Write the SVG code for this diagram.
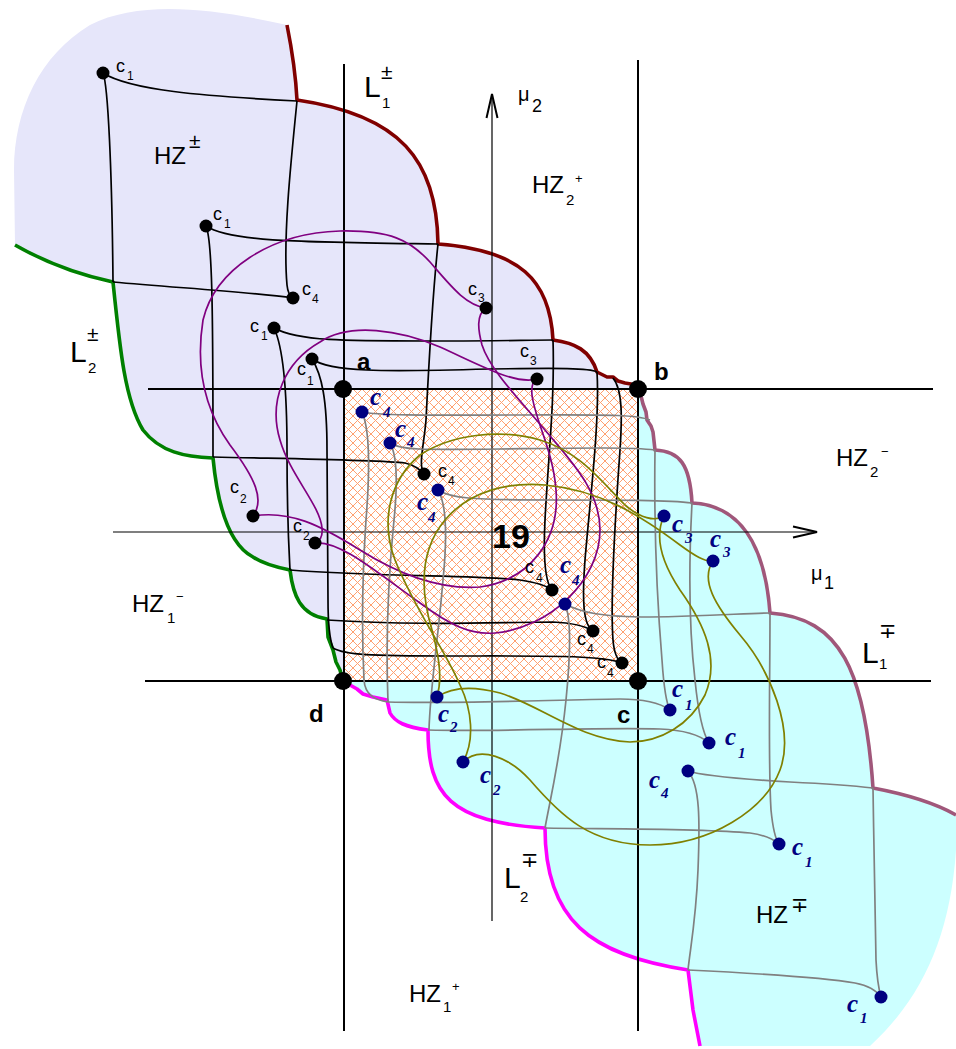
<svg xmlns="http://www.w3.org/2000/svg" width="956" height="1049" viewBox="0 0 956 1049">
<defs>
<pattern id="hatch" patternUnits="userSpaceOnUse" x="344" y="389" width="9" height="9">
<path d="M0,0 L9,9 M0,9 L9,0" stroke="#ffa070" stroke-width="1" fill="none"/>
</pattern>
<marker id="arr" markerUnits="userSpaceOnUse" viewBox="-26 -8 28 16" refX="0" refY="0" markerWidth="28" markerHeight="16" orient="auto" overflow="visible">
<path d="M-24,-5.5 L0,0 L-24,5.5" fill="none" stroke="#000" stroke-width="2"/>
</marker>
<style>
.lav{fill:#e6e6fa;stroke:none}
.cyn{fill:#ccffff;stroke:none}
.bnd{fill:none;stroke-width:3.6;stroke-linejoin:round}
.main{stroke:#000;stroke-width:2;fill:none}
.axis{stroke:#000;stroke-width:1.2;fill:none}
.kg{stroke:#000;stroke-width:1.7;fill:none}
.gg{stroke:#808080;stroke-width:1.7;fill:none}
.pp{stroke:#800080;stroke-width:1.7;fill:none}
.ol{stroke:#808000;stroke-width:1.7;fill:none}
.kd{fill:#000}
.bd{fill:#000080}
text{font-family:"Liberation Sans",Arial,"DejaVu Sans",sans-serif;fill:#000}
.c{font-size:18px}
.cs{font-size:12px}
.bc{font-family:"Liberation Serif","Times New Roman",serif;font-style:italic;font-weight:bold;fill:#000080;font-size:25px}
.bcs{font-family:"Liberation Serif","Times New Roman",serif;font-style:italic;font-weight:bold;fill:#000080;font-size:15px}
.pt{font-weight:bold;font-size:24px}
.hz{font-size:24px}
.L{font-size:30px}
.sb{font-size:15px}
.sp{font-size:21px;font-family:"Liberation Sans","DejaVu Sans",sans-serif}
.spm{font-size:13px}
.mu{font-size:20px}
.mus{font-size:18px}
</style>
</defs>
<rect width="956" height="1049" fill="#fff"/>

<g id="regions">
<path class="lav" d="M287,25 C292,50 296,80 297,100 C400,115 437,160 438,244 C520,250 550,280 553,340 C575,343 590,350 597,372 L607,377 L613,377 L618,381 L625,383 L631,384 L638,389 L344,681 L340,670 L336,662 L333,650 L328,637 L327,619 C300,615 293,595 290,570 C280,568 265,565 253,557 C230,545 218,510 213,458 C185,457 160,452 143,430 C125,400 120,350 113,282 C80,275 50,265 15,245 L14,170 C14,110 40,55 90,25 C140,0 210,8 287,25 Z"/>
<path class="cyn" d="M638,389 L641,396 L643,404 L646,412 L647,420 L651,426 L653,432 L655,450 C680,451 690,465 692,503 C740,505 765,545 770,613 C840,618 865,670 873,788 C910,795 935,803 956,815 L956,850 C950,940 920,1000 870,1046 L700,1046 L693,1010 L688,970 C590,955 545,920 545,828 C450,822 428,795 428,730 C405,727 395,722 390,713 L387,700 L373,697 L363,694 L357,689 L350,685 L343,681 L638,681 Z"/>
</g>

<g id="square">
<rect x="344" y="389" width="294" height="292" fill="#fff"/>
<rect x="344" y="389" width="294" height="292" fill="url(#hatch)"/>
</g>

<g id="boundaries">
<path class="bnd" stroke="#800000" d="M287,25 C292,50 296,80 297,100 C400,115 437,160 438,244 C520,250 550,280 553,340 C575,343 590,350 597,372 L607,377 L613,377 L618,381 L625,383 L631,384 L638,389"/>
<path class="bnd" stroke="#008000" d="M15,245 C50,265 80,275 113,282 C120,350 125,400 143,430 C160,452 185,457 213,458 C218,510 230,545 253,557 C265,565 280,568 290,570 C293,595 300,615 327,619 L328,637 L333,650 L336,662 L340,670 L343,681"/>
<path class="bnd" stroke="#a0577a" d="M638,389 L641,396 L643,404 L646,412 L647,420 L651,426 L653,432 L655,450 C680,451 690,465 692,503 C740,505 765,545 770,613 C840,618 865,670 873,788 C910,795 935,803 956,815"/>
<path class="bnd" stroke="#ff00ff" d="M343,681 L350,685 L357,689 L363,694 L373,697 L387,700 L390,713 C395,722 405,727 428,730 C428,795 450,822 545,828 C545,920 590,955 688,970 L693,1010 L700,1046"/>
</g>

<g id="lines">
<line class="main" x1="344" y1="64" x2="344" y2="1031"/>
<line class="main" x1="638" y1="60" x2="638" y2="1031"/>
<line class="main" x1="148" y1="389" x2="933" y2="389"/>
<line class="main" x1="145" y1="681" x2="931" y2="681"/>
<line class="axis" x1="492" y1="921" x2="492" y2="94" marker-end="url(#arr)"/>
<line class="axis" x1="113" y1="532" x2="817" y2="532" marker-end="url(#arr)"/>
</g>

<g id="connectors">
<g id="black-grid">
<path class="kg" d="M103,73 C130,90 200,96 297,101"/>
<path class="kg" d="M103,73 C108,85 112,170 113,282"/>
<path class="kg" d="M113,282 C180,288 250,292 293,298"/>
<path class="kg" d="M297,101 C290,170 283,240 287,285 Q288,295 293,298"/>
<path class="kg" d="M206,226 C230,242 300,242 438,244"/>
<path class="kg" d="M206,226 C212,240 213,300 213,457"/>
<path class="kg" d="M213,457 C300,459 380,460 405,463 C415,465 420,470 424,474"/>
<path class="kg" d="M438,244 C432,300 428,380 426,420 C424,445 418,465 424,474"/>
<path class="kg" d="M274,328 C300,342 350,341 450,341 C500,341 530,340 553,340"/>
<path class="kg" d="M274,328 C282,345 287,380 287,450 C287,520 289,550 290,570"/>
<path class="kg" d="M290,570 C380,577 480,575 520,580 C540,583 547,586 552,590"/>
<path class="kg" d="M553,340 C555,400 548,460 545,520 C543,560 545,582 552,590"/>
<path class="kg" d="M312,359 C330,372 380,372 490,369 C560,368 590,368 597,372"/>
<path class="kg" d="M312,359 C322,375 327,400 327,450 L328,600 C328,625 330,640 333,648"/>
<path class="kg" d="M327,620 C420,626 500,622 553,622 C575,623 585,626 593,631"/>
<path class="kg" d="M597,372 C600,420 590,500 585,560 C582,600 583,625 593,631"/>
<path class="kg" d="M333,648 C345,655 370,656 450,656 C550,656 600,655 622,663"/>
<path class="kg" d="M613,378 C623,390 622,420 620,450 C615,520 610,600 613,640 C614,652 617,660 622,663"/>
</g>
<g id="gray-grid">
<path class="gg" d="M362,412 C380,416 450,415 520,415 C600,415 635,414 650,420"/>
<path class="gg" d="M362,412 C370,430 370,470 366,520 C362,580 362,640 364,680 C365,695 375,700 388,702"/>
<path class="gg" d="M390,443 C400,450 420,450 500,449 C580,448 630,447 655,450"/>
<path class="gg" d="M390,443 C397,455 398,480 394,520 C388,580 386,650 388,702"/>
<path class="gg" d="M388,702 C450,704 550,700 620,699 C645,699 660,703 670,710"/>
<path class="gg" d="M655,450 C654,520 657,600 662,660 C664,690 666,703 670,710"/>
<path class="gg" d="M438,490 C450,498 470,500 550,500 C620,500 670,500 692,503"/>
<path class="gg" d="M438,490 C447,505 447,540 443,580 C438,640 430,690 429,730"/>
<path class="gg" d="M428,730 C500,732 600,727 660,729 C685,730 700,735 709,743"/>
<path class="gg" d="M692,503 C689,560 688,620 695,680 C698,710 702,732 709,743"/>
<path class="gg" d="M565,604 C580,612 600,617 650,617 C710,616 750,613 770,613"/>
<path class="gg" d="M565,604 C572,620 570,660 566,700 C560,760 550,800 545,828"/>
<path class="gg" d="M545,828 C600,829 700,828 750,833 C765,835 773,839 779,844"/>
<path class="gg" d="M770,613 C770,680 768,760 771,810 C773,830 776,840 779,844"/>
<path class="gg" d="M688,771 C700,775 740,779 790,782 C830,784 855,786 873,788"/>
<path class="gg" d="M688,771 C700,785 700,820 698,870 C696,920 690,950 688,970"/>
<path class="gg" d="M688,970 C750,973 820,977 855,983 C870,986 877,991 881,997"/>
<path class="gg" d="M873,788 C874,850 875,920 876,960 C877,980 879,990 881,997"/>
</g>
<g id="purple-cycle">
<path class="pp" d="M486,308 C465,305 450,285 430,262 C410,240 390,230 340,231 C270,233 215,270 203,320 C195,370 205,410 230,445 C255,478 265,500 253,516"/>
<path class="pp" d="M253,516 C290,510 320,525 360,550 C400,575 440,590 480,587 C530,580 560,540 556,490 C553,450 535,420 532,395 C531,385 533,381 537,379"/>
<path class="pp" d="M537,379 C515,385 480,365 440,347 C400,330 350,322 320,342 C285,362 268,400 280,440 C290,475 320,505 322,528 C323,537 320,541 315,543"/>
<path class="pp" d="M315,543 C340,540 380,575 420,603 C450,625 470,635 495,633 C550,628 600,580 600,530 C600,490 570,460 545,430 C520,400 490,370 482,345 C478,330 476,315 486,308"/>
</g>
<g id="olive-cycle">
<path class="ol" d="M437,697 C442,680 440,660 432,630 C420,590 420,550 445,520 C470,490 510,482 545,485 C600,490 640,515 680,545 C695,556 705,562 713,561"/>
<path class="ol" d="M713,561 C700,580 715,605 740,635 C770,670 795,730 780,770 C765,810 710,845 650,845 C590,845 560,815 530,780 C510,758 480,745 463,762"/>
<path class="ol" d="M463,762 C475,740 472,710 460,685 C445,650 415,610 395,560 C380,520 390,480 420,455 C450,435 500,428 540,440 C580,452 600,480 625,505 C640,518 655,522 664,516"/>
<path class="ol" d="M664,516 C655,535 660,560 680,590 C705,625 720,660 705,695 C690,725 660,742 630,742 C580,740 540,705 500,693 C470,685 450,688 437,697"/>
</g>
</g>

<g id="corners">
<g id="pt-a"><circle class="kd" cx="343" cy="389" r="9"/><text class="pt" x="357" y="370">a</text></g>
<g id="pt-b"><circle class="kd" cx="638" cy="389" r="9"/><text class="pt" x="654" y="380">b</text></g>
<g id="pt-c"><circle class="kd" cx="638" cy="681" r="9"/><text class="pt" x="617" y="723">c</text></g>
<g id="pt-d"><circle class="kd" cx="343" cy="681" r="9"/><text class="pt" x="309" y="722">d</text></g>
</g>

<g id="black-nodes">
<g id="k1"><circle class="kd" cx="103" cy="73" r="6.5"/><text class="c" x="116" y="72">c</text><text class="cs" x="127" y="80">1</text></g>
<g id="k2"><circle class="kd" cx="206" cy="226" r="6.5"/><text class="c" x="213" y="220">c</text><text class="cs" x="224" y="228">1</text></g>
<g id="k3"><circle class="kd" cx="293" cy="298" r="6.5"/><text class="c" x="302" y="295">c</text><text class="cs" x="312" y="303">4</text></g>
<g id="k4"><circle class="kd" cx="274" cy="328" r="6.5"/><text class="c" x="250" y="332">c</text><text class="cs" x="261" y="340">1</text></g>
<g id="k5"><circle class="kd" cx="312" cy="359" r="6.5"/><text class="c" x="297" y="375">c</text><text class="cs" x="307" y="385">1</text></g>
<g id="k6"><circle class="kd" cx="486" cy="308" r="6.5"/><text class="c" x="468" y="295">c</text><text class="cs" x="478" y="302">3</text></g>
<g id="k7"><circle class="kd" cx="537" cy="379" r="6.5"/><text class="c" x="520" y="357">c</text><text class="cs" x="530" y="365">3</text></g>
<g id="k8"><circle class="kd" cx="424" cy="474" r="6.5"/><text class="c" x="438" y="477">c</text><text class="cs" x="448" y="485">4</text></g>
<g id="k9"><circle class="kd" cx="253" cy="516" r="6.5"/><text class="c" x="230" y="493">c</text><text class="cs" x="240" y="503">2</text></g>
<g id="k10"><circle class="kd" cx="315" cy="543" r="6.5"/><text class="c" x="293" y="532">c</text><text class="cs" x="303" y="540">2</text></g>
<g id="k11"><circle class="kd" cx="552" cy="590" r="6.5"/><text class="c" x="525" y="573">c</text><text class="cs" x="536" y="582">4</text></g>
<g id="k12"><circle class="kd" cx="593" cy="631" r="6.5"/><text class="c" x="577" y="645">c</text><text class="cs" x="587" y="653">4</text></g>
<g id="k13"><circle class="kd" cx="622" cy="663" r="6.5"/><text class="c" x="597" y="668">c</text><text class="cs" x="607" y="677">4</text></g>
</g>

<g id="blue-nodes">
<g id="b1"><circle class="bd" cx="362" cy="412" r="6.5"/><text class="bc" x="370" y="405">c</text><text class="bcs" x="383" y="417">4</text></g>
<g id="b2"><circle class="bd" cx="390" cy="443" r="6.5"/><text class="bc" x="395" y="437">c</text><text class="bcs" x="407" y="447">4</text></g>
<g id="b3"><circle class="bd" cx="438" cy="490" r="6.5"/><text class="bc" x="417" y="510">c</text><text class="bcs" x="428" y="522">4</text></g>
<g id="b4"><circle class="bd" cx="565" cy="604" r="6.5"/><text class="bc" x="560" y="573">c</text><text class="bcs" x="572" y="585">4</text></g>
<g id="b5"><circle class="bd" cx="664" cy="516" r="6.5"/><text class="bc" x="672" y="532">c</text><text class="bcs" x="685" y="543">3</text></g>
<g id="b6"><circle class="bd" cx="713" cy="561" r="6.5"/><text class="bc" x="710" y="547">c</text><text class="bcs" x="723" y="557">3</text></g>
<g id="b7"><circle class="bd" cx="437" cy="697" r="6.5"/><text class="bc" x="438" y="722">c</text><text class="bcs" x="450" y="732">2</text></g>
<g id="b8"><circle class="bd" cx="463" cy="762" r="6.5"/><text class="bc" x="480" y="783">c</text><text class="bcs" x="493" y="795">2</text></g>
<g id="b9"><circle class="bd" cx="670" cy="710" r="6.5"/><text class="bc" x="672" y="697">c</text><text class="bcs" x="685" y="710">1</text></g>
<g id="b10"><circle class="bd" cx="709" cy="743" r="6.5"/><text class="bc" x="725" y="745">c</text><text class="bcs" x="738" y="758">1</text></g>
<g id="b11"><circle class="bd" cx="688" cy="771" r="6.5"/><text class="bc" x="649" y="788">c</text><text class="bcs" x="661" y="798">4</text></g>
<g id="b12"><circle class="bd" cx="779" cy="844" r="6.5"/><text class="bc" x="792" y="855">c</text><text class="bcs" x="805" y="867">1</text></g>
<g id="b13"><circle class="bd" cx="881" cy="997" r="6.5"/><text class="bc" x="847" y="1012">c</text><text class="bcs" x="860" y="1023">1</text></g>
</g>

<g id="labels">
<text style="font-weight:bold;font-size:34px" x="492" y="548">19</text>
<g id="lab-hzpm"><text class="hz" x="154" y="164">HZ</text><text class="sp" x="189" y="148">±</text></g>
<g id="lab-L1pm"><text class="L" x="364" y="97">L</text><text class="sb" x="382" y="108">1</text><text class="sp" x="381" y="79">±</text></g>
<g id="lab-mu2"><text class="mu" x="518" y="101">μ</text><text class="mus" x="532" y="112">2</text></g>
<g id="lab-hz2p"><text class="hz" x="532" y="193">HZ</text><text class="sb" x="566" y="205">2</text><text class="spm" x="575" y="183">+</text></g>
<g id="lab-L2pm"><text class="L" x="70" y="362">L</text><text class="sb" x="88" y="373">2</text><text class="sp" x="87" y="341">±</text></g>
<g id="lab-hz2m"><text class="hz" x="836" y="466">HZ</text><text class="sb" x="870" y="477">2</text><text class="spm" x="881" y="456">−</text></g>
<g id="lab-mu1"><text class="mu" x="811" y="580">μ</text><text class="mus" x="824" y="589">1</text></g>
<g id="lab-L1mp"><text class="L" x="862" y="663">L</text><text class="sb" x="879" y="669">1</text><text class="sp" x="879" y="638">∓</text></g>
<g id="lab-hz1m"><text class="hz" x="132" y="612">HZ</text><text class="sb" x="167" y="623">1</text><text class="spm" x="176" y="601">−</text></g>
<g id="lab-L2mp"><text class="L" x="504" y="888">L</text><text class="sb" x="520" y="902">2</text><text class="sp" x="521" y="867">∓</text></g>
<g id="lab-hz1p"><text class="hz" x="409" y="1002">HZ</text><text class="sb" x="443" y="1012">1</text><text class="spm" x="452" y="991">+</text></g>
<g id="lab-hzmp"><text class="hz" x="756" y="923">HZ</text><text class="sp" x="791" y="912">∓</text></g>
</g>
</svg>
